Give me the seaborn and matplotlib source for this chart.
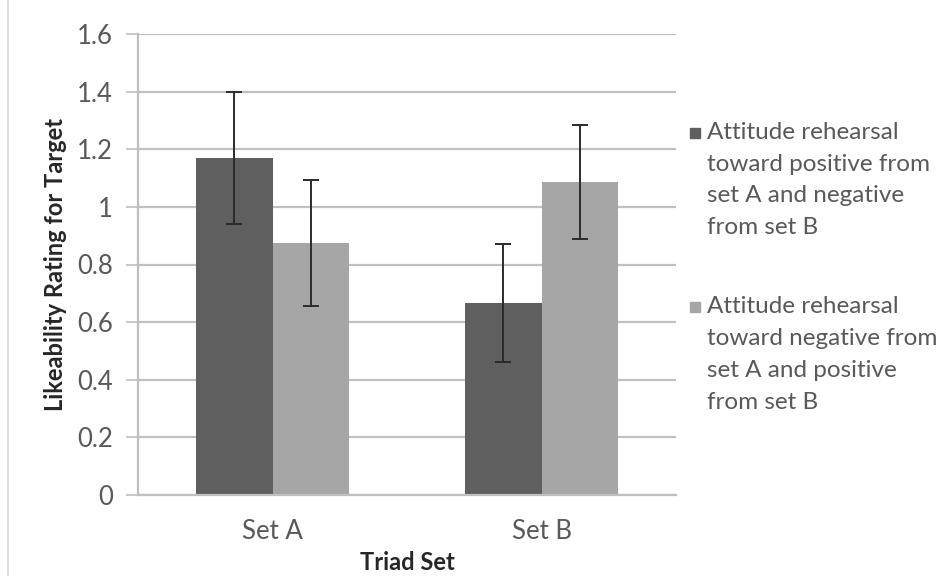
import matplotlib
matplotlib.use("Agg")
import matplotlib.pyplot as plt
import seaborn as sns
import pandas as pd
import numpy as np
from matplotlib.lines import Line2D
from matplotlib.patches import Patch, Rectangle
from matplotlib.legend_handler import HandlerPatch

categories = ["Set A", "Set B"]
series_names = [
    "Attitude rehearsal\ntoward positive from\nset A and negative\nfrom set B",
    "Attitude rehearsal\ntoward negative from\nset A and positive\nfrom set B",
]
series1_values = [1.17, 0.665]
series2_values = [0.875, 1.085]
series1_err = [0.23, 0.205]
series2_err = [0.22, 0.198]
yticks = [0, 0.2, 0.4, 0.6, 0.8, 1, 1.2, 1.4, 1.6]
ytick_labels = ["0", "0.2", "0.4", "0.6", "0.8", "1", "1.2", "1.4", "1.6"]

colors = ["#5f5f5f", "#a6a6a6"]

df = pd.DataFrame({
    "Triad Set": categories * 2,
    "series": [series_names[0]] * 2 + [series_names[1]] * 2,
    "value": series1_values + series2_values,
    "err": series1_err + series2_err,
})

sns.set_theme(style="white")
plt.rcParams["font.family"] = ["Lato", "DejaVu Sans"]

fig = plt.figure(figsize=(9.45, 5.76), dpi=100)
ax = fig.add_axes([138 / 945, 1 - 495 / 576, (676 - 138) / 945, (495 - 34) / 576])

sns.barplot(data=df, x="Triad Set", y="value", hue="series", palette=colors,
            width=0.57, errorbar=None, ax=ax, saturation=1, legend=False,
            linewidth=0, zorder=2)

# error bars on each bar
for cont, errs in zip(ax.containers, [series1_err, series2_err]):
    for patch, e in zip(cont.patches, errs):
        cx = patch.get_x() + patch.get_width() / 2
        h = patch.get_height()
        ax.errorbar(cx, h, yerr=e, fmt="none", ecolor="#2b2b2b", elinewidth=1.4,
                    capsize=6, capthick=1.4, zorder=3)

tick_color = "#595959"
ax.set_xlim(-0.5, 1.5)
ax.set_ylim(0, 1.6)
ax.set_yticks(yticks)
ax.set_yticklabels(ytick_labels, fontsize=18.5, color=tick_color)
ax.tick_params(axis="y", which="major", length=9, width=1.2, color="#bfbfbf",
               direction="out", left=True, pad=9)
ax.tick_params(axis="x", length=0, labelsize=18.5, labelcolor=tick_color, pad=17)
ax.yaxis.grid(True, color="#c0c0c0", linewidth=1.6, zorder=0)
ax.set_axisbelow(True)
for s in ["top", "right"]:
    ax.spines[s].set_visible(False)
for s in ["left", "bottom"]:
    ax.spines[s].set_color("#bfbfbf")
    ax.spines[s].set_linewidth(1.6)

ax.set_xlabel("Triad Set", fontsize=17, fontweight="bold", color="#262626", labelpad=5)
ax.set_ylabel("Likeability Rating for Target", fontsize=17, fontweight="bold",
              color="#262626")
ax.yaxis.set_label_coords((67 - 138) / 538, 0.5)

LEG_FS = 17.5
LINE_SP = 1.63


def top_square(legend, orig_handle, xdescent, ydescent, width, height, fontsize):
    size = 7.4
    # shift the square up to sit beside the first line of the 4-line label
    shift = 34.0
    y0 = -ydescent + (height - size) / 2 + shift
    return Rectangle((-xdescent, y0), size, size)


handles = [Patch(facecolor=c, edgecolor=c) for c in colors]
leg = fig.legend(handles, series_names, loc="upper left",
                 bbox_to_anchor=(690 / 945, 1 - 122 / 576),
                 frameon=False, fontsize=LEG_FS, handlelength=0.42, handletextpad=0.3,
                 labelspacing=2.4, labelcolor=tick_color, borderaxespad=0, borderpad=0,
                 handler_map={Patch: HandlerPatch(patch_func=top_square)})
for t in leg.get_texts():
    t.set_linespacing(LINE_SP)

# light outer border on left edge
fig.add_artist(Line2D([8 / 945, 8 / 945], [0, 1], transform=fig.transFigure,
                      color="#d9d9d9", linewidth=1.2))

fig.savefig("out.png", dpi=100)
